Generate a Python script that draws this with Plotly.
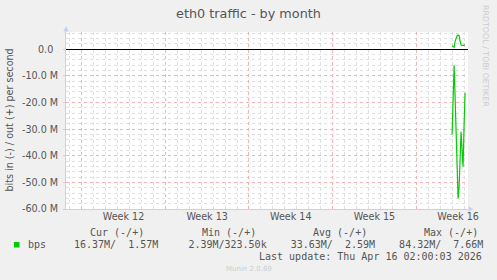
import plotly.graph_objects as go
from datetime import datetime, timedelta

# ---------------- data ----------------
times = [
    "2026-04-15 00:00", "2026-04-15 02:00", "2026-04-15 04:00", "2026-04-15 06:00",
    "2026-04-15 08:00", "2026-04-15 10:00", "2026-04-15 12:00", "2026-04-15 14:00",
    "2026-04-15 16:00", "2026-04-15 18:00", "2026-04-15 20:00", "2026-04-15 22:00",
    "2026-04-16 00:00", "2026-04-16 02:00",
]
bps_out = [1.3e6, 1.0e6, 0.8e6, 3.0e6, 4.6e6, 5.1e6, 5.3e6, 5.2e6, 3.0e6, 1.6e6, 1.5e6, 1.5e6, 1.55e6, 1.57e6]
bps_in = [32e6, 20e6, 6e6, 18e6, 31e6, 44e6, 56e6, 52e6, 40e6, 31e6, 38e6, 44e6, 29e6, 16.37e6]

week_starts = ["2026-03-15", "2026-03-22", "2026-03-29", "2026-04-05", "2026-04-12"]
week_labels = ["Week 12", "Week 13", "Week 14", "Week 15", "Week 16"]

y_tickvals = [0, -10e6, -20e6, -30e6, -40e6, -50e6, -60e6]
y_ticktext = ["0.0\u2002", "-10.0 M", "-20.0 M", "-30.0 M", "-40.0 M", "-50.0 M", "-60.0 M"]

stat_headers = ["Cur (-/+)", "Min (-/+)", "Avg (-/+)", "Max (-/+)"]
stat_in = ["16.37M", "2.39M", "33.63M", "84.32M"]
stat_out = ["1.57M", "323.50k", "2.59M", "7.66M"]
series_name = "bps"

title = "eth0 traffic - by month"
y_title = "bits in (-) / out (+) per second"
last_update = "Last update: Thu Apr 16 02:00:03 2026"
footer = "Munin 2.0.69"
side_text = "RRDTOOL / TOBI OETIKER"

# ---------------- layout helpers ----------------
W, H = 497, 280
L, R, T, B = 66, 468, 32, 209


def px(x):
    return (x - L) / (R - L)


def py(y):
    return (B - y) / (B - T)


GREEN = "#00cc00"
AXIS = "#c8cff5"
FONT = "DejaVu Sans"
MONO = "DejaVu Sans Mono"
MINOR_GRID = "#e0e0e0"
MAJOR_GRID = "#f4b4b4"

week_mids = [(datetime.fromisoformat(w) + timedelta(days=3.5)).strftime("%Y-%m-%d %H:%M") for w in week_starts]

fig = go.Figure()
fig.add_trace(go.Scatter(x=times, y=bps_out, mode="lines", line=dict(color=GREEN, width=1.2),
                         showlegend=False, hoverinfo="skip"))
fig.add_trace(go.Scatter(x=times, y=[-v for v in bps_in], mode="lines", line=dict(color=GREEN, width=1.2),
                         showlegend=False, hoverinfo="skip"))
# carrier trace for the label axis
fig.add_trace(go.Scatter(x=week_mids, y=[None] * len(week_mids), xaxis="x2", mode="lines",
                         showlegend=False, hoverinfo="skip"))

fig.update_layout(
    width=W, height=H,
    margin=dict(l=L, r=W - R, t=T, b=H - B),
    paper_bgcolor="#f0f0f0",
    plot_bgcolor="#ffffff",
    font=dict(family=FONT, size=9.6, color="#666666"),
    title=dict(text=title, x=(248.5 - L) / (R - L), xanchor="center", xref="paper", y=1 - 14 / H,
               yref="container", yanchor="middle", font=dict(family=FONT, size=12.8, color="#555555")),
    xaxis=dict(
        type="date",
        range=["2026-03-13 16:28", "2026-04-16 07:55"],
        tickmode="array", tickvals=week_starts, showticklabels=False, ticks="",
        showgrid=True, gridcolor=MAJOR_GRID, griddash="dot", gridwidth=1,
        minor=dict(dtick=86400000, tick0="2026-03-15", showgrid=True, gridcolor=MINOR_GRID,
                   griddash="dot", gridwidth=1),
        showline=True, linecolor=AXIS, linewidth=1, zeroline=False, fixedrange=True,
    ),
    xaxis2=dict(
        type="date", overlaying="x", matches="x", anchor="y", side="bottom",
        tickmode="array", tickvals=week_mids, ticktext=week_labels, ticks="",
        showgrid=False, showline=False, zeroline=False,
        tickfont=dict(family=FONT, size=9.6, color="#555555"),
    ),
    yaxis=dict(
        range=[-60e6, 6.5e6],
        tickmode="array", tickvals=y_tickvals, ticktext=y_ticktext,
        ticks="outside", ticklen=2, tickcolor=AXIS, ticklabelstandoff=3,
        tickfont=dict(family=FONT, size=9.6, color="#555555"),
        showgrid=True, gridcolor=MAJOR_GRID, griddash="dot", gridwidth=1,
        minor=dict(dtick=2e6, tick0=0, showgrid=True, gridcolor=MINOR_GRID, griddash="dot", gridwidth=1),
        zeroline=True, zerolinecolor="#000000", zerolinewidth=1,
        showline=True, linecolor=AXIS, linewidth=1, fixedrange=True,
    ),
)

# axis arrows
fig.add_shape(type="path", xref="paper", yref="paper", line=dict(width=0), fillcolor=AXIS,
              path=f"M {px(66)},{py(26)} L {px(63.3)},{py(31.5)} L {px(68.7)},{py(31.5)} Z")
fig.add_shape(type="line", xref="paper", yref="paper", x0=0, x1=0, y0=1, y1=py(31), line=dict(color=AXIS, width=1))
fig.add_shape(type="path", xref="paper", yref="paper", line=dict(width=0), fillcolor=AXIS,
              path=f"M {px(473.5)},{py(B)} L {px(468.5)},{py(B - 2.7)} L {px(468.5)},{py(B + 2.7)} Z")

ann = []
# y axis title
ann.append(dict(text=y_title, x=px(9), y=0.5, xref="paper", yref="paper", textangle=-90,
                xanchor="center", yanchor="middle", showarrow=False,
                font=dict(family=FONT, size=9.6, color="#555555")))
# side credit
ann.append(dict(text=side_text, x=px(486), y=py(56), xref="paper", yref="paper", textangle=90,
                xanchor="center", yanchor="middle", showarrow=False,
                font=dict(family=FONT, size=7.9, color="#cccccc")))
# legend headers
header_x = [89, 201, 312, 422.7]
for hx, h in zip(header_x, stat_headers):
    ann.append(dict(text=h.replace(" ", "\u00a0"), x=px(hx), y=py(232.7), xref="paper", yref="paper",
                    xanchor="left", yanchor="middle", showarrow=False, borderpad=0,
                    font=dict(family=MONO, size=10, color="#555555")))
# series name
ann.append(dict(text=series_name, x=px(27), y=py(244.3), xref="paper", yref="paper",
                xanchor="left", yanchor="middle", showarrow=False, borderpad=0,
                font=dict(family=MONO, size=10, color="#555555")))
values_row = "    ".join(f"{i:>6}/{o:>7}" for i, o in zip(stat_in, stat_out))
ann.append(dict(text=values_row.replace(" ", "\u00a0"), x=px(72.7), y=py(244.3), xref="paper", yref="paper",
                xanchor="left", yanchor="middle", showarrow=False, borderpad=0,
                font=dict(family=MONO, size=10, color="#555555")))
ann.append(dict(text=last_update.replace(" ", "\u00a0"), x=px(482.7), y=py(256.7), xref="paper", yref="paper",
                xanchor="right", yanchor="middle", showarrow=False, borderpad=0,
                font=dict(family=MONO, size=10, color="#555555")))
ann.append(dict(text=footer, x=0.5, xref="paper", y=py(269.3), yref="paper", xanchor="center",
                yanchor="middle", showarrow=False, borderpad=0,
                font=dict(family=FONT, size=7, color="#cccccc")))
ann[-1]["x"] = px(248.5)
fig.update_layout(annotations=ann)

# legend colour square
fig.add_shape(type="rect", xref="paper", yref="paper", x0=px(14), x1=px(19.5), y0=py(247.5), y1=py(242),
              line=dict(width=0), fillcolor=GREEN)

fig.write_html("out.html")
